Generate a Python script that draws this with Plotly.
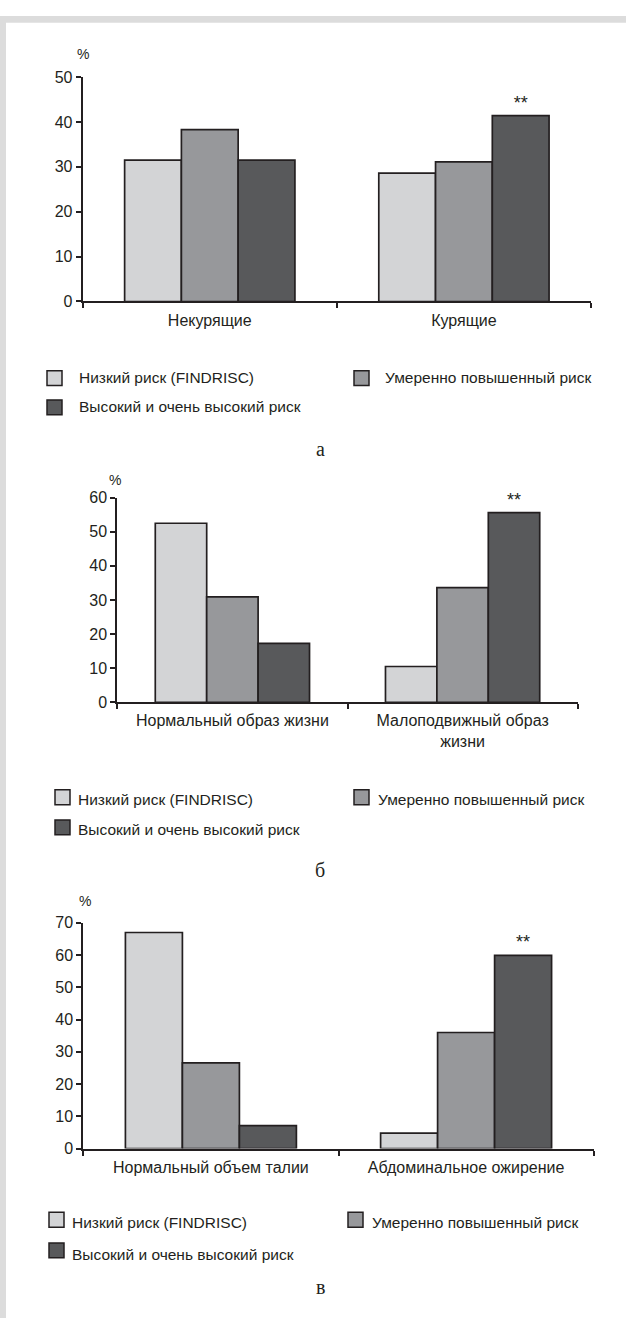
import plotly.graph_objects as go

# ---- data -------------------------------------------------------------
series_names = ["Низкий риск (FINDRISC)", "Умеренно повышенный риск",
                "Высокий и очень высокий риск"]
series_colors = ["#d3d4d6", "#97989b", "#58595b"]

cats_a = ["Некурящие", "Курящие"]
low_a = [31.5, 28.6]
mid_a = [38.3, 31.1]
high_a = [31.5, 41.4]
ticks_a = [0, 10, 20, 30, 40, 50]

cats_b = ["Нормальный образ жизни", "Малоподвижный образ<br>жизни"]
low_b = [52.5, 10.5]
mid_b = [30.9, 33.6]
high_b = [17.3, 55.6]
ticks_b = [0, 10, 20, 30, 40, 50, 60]

cats_c = ["Нормальный объем талии", "Абдоминальное ожирение"]
low_c = [67.0, 4.8]
mid_c = [26.6, 36.0]
high_c = [7.1, 59.9]
ticks_c = [0, 10, 20, 30, 40, 50, 60, 70]

signif_marks = ["", "**"]
panel_letters = ["а", "б", "в"]
unit_label = "%"

# ---- page geometry (pixels) ------------------------------------------
W, H = 626, 1327
INK = "#231f20"
SANS = "Liberation Sans, Arial, sans-serif"
SERIF = "Liberation Serif, Times New Roman, serif"


def fx(x):
    return x / W


def fy(y):
    return 1 - y / H


# box = (left, right, top, bottom) of each plot area
# rows = legend text centre per row, sq_rows = legend swatch centre per row
panels = [
    dict(cats=cats_a, vals=[low_a, mid_a, high_a], ticks=ticks_a,
         box=(82.7, 591.0, 70.0, 297.3), unit=(83, 47),
         rows=(374.5, 404), sq_rows=(375, 404.5),
         sq_x=(47, 354), txt_x=(76.5, 383), letter=(320, 447)),
    dict(cats=cats_b, vals=[low_b, mid_b, high_b], ticks=ticks_b,
         box=(117.3, 577.7, 496.0, 703.3), unit=(115, 478),
         rows=(801.5, 832.5), sq_rows=(799.5, 830),
         sq_x=(55, 354), txt_x=(76, 376), letter=(320, 873)),
    dict(cats=cats_c, vals=[low_c, mid_c, high_c], ticks=ticks_c,
         box=(83.3, 593.7, 926.7, 1155.4), unit=(85, 905),
         rows=(1230.5, 1262.5), sq_rows=(1227.5, 1258.5),
         sq_x=(49, 348), txt_x=(70, 369.5), letter=(320, 1296)),
]

fig = go.Figure()
layout = dict(
    width=W, height=H,
    margin=dict(l=0, r=0, t=0, b=0),
    paper_bgcolor="white", plot_bgcolor="white",
    barmode="group", bargap=0.33, bargroupgap=0,
    showlegend=False,
    font=dict(family=SANS, size=16, color=INK),
)
shapes = []
annotations = []

# light frame along the top and left edges of the page
shapes.append(dict(type="rect", xref="paper", yref="paper",
                   x0=0, x1=1, y0=fy(15), y1=fy(8),
                   fillcolor="#dcdcdc", line=dict(width=0), layer="below"))
shapes.append(dict(type="rect", xref="paper", yref="paper",
                   x0=0, x1=fx(6), y0=0, y1=fy(8),
                   fillcolor="#dcdcdc", line=dict(width=0), layer="below"))

for i, p in enumerate(panels):
    n = "" if i == 0 else str(i + 1)
    xa, ya = "x" + n, "y" + n
    x0, x1, ytop, ybot = p["box"]

    for k, (name, color, vals) in enumerate(zip(series_names, series_colors, p["vals"])):
        bar = dict(
            x=p["cats"], y=vals, name=name,
            marker=dict(color=color, line=dict(color=INK, width=1.7)),
            xaxis=xa, yaxis=ya, cliponaxis=False, hoverinfo="skip",
        )
        if k == 2:
            bar.update(text=signif_marks, textposition="outside",
                       textfont=dict(family=SANS, size=18, color=INK))
        fig.add_trace(go.Bar(**bar))

    layout["xaxis" + n] = dict(
        domain=[fx(x0), fx(x1)], anchor=ya, type="category",
        showline=True, linecolor=INK, linewidth=2,
        ticks="outside", tickson="boundaries", ticklen=5, tickwidth=2,
        tickcolor=INK, showgrid=False, zeroline=False,
        ticklabelstandoff=3,
        tickfont=dict(family=SANS, size=16, color=INK), fixedrange=True,
    )
    layout["yaxis" + n] = dict(
        domain=[fy(ybot), fy(ytop)], anchor=xa,
        range=[0, max(p["ticks"])], tickvals=p["ticks"],
        showline=True, linecolor=INK, linewidth=2,
        ticks="outside", ticklen=5, tickwidth=2, tickcolor=INK,
        showgrid=False, zeroline=False,
        tickfont=dict(family=SANS, size=16, color=INK), fixedrange=True,
    )

    # "%" above the value axis
    ux, uy = p["unit"]
    annotations.append(dict(xref="paper", yref="paper", x=fx(ux), y=fy(uy),
                            text=unit_label, showarrow=False,
                            xanchor="center", yanchor="middle",
                            font=dict(family=SANS, size=14, color=INK)))

    # legend: two columns, third entry on the second row
    slots = [(0, 0), (1, 0), (0, 1)]
    for (col, row), name, color in zip(slots, series_names, series_colors):
        cy = p["rows"][row]
        sy = p["sq_rows"][row]
        sx = p["sq_x"][col]
        shapes.append(dict(type="rect", xref="paper", yref="paper",
                           x0=fx(sx), x1=fx(sx + 15),
                           y0=fy(sy + 7.5), y1=fy(sy - 7.5),
                           fillcolor=color, line=dict(color=INK, width=1.5)))
        annotations.append(dict(xref="paper", yref="paper",
                                x=fx(p["txt_x"][col]), y=fy(cy),
                                text=name, showarrow=False,
                                xanchor="left", yanchor="middle",
                                font=dict(family=SANS, size=15.5, color=INK)))

    lx, ly = p["letter"]
    annotations.append(dict(xref="paper", yref="paper", x=fx(lx), y=fy(ly),
                            text=panel_letters[i], showarrow=False,
                            xanchor="center", yanchor="middle",
                            font=dict(family=SERIF, size=20, color=INK)))

layout["shapes"] = shapes
layout["annotations"] = annotations
fig.update_layout(**layout)

fig.write_html("out.html", config=dict(displayModeBar=False))
